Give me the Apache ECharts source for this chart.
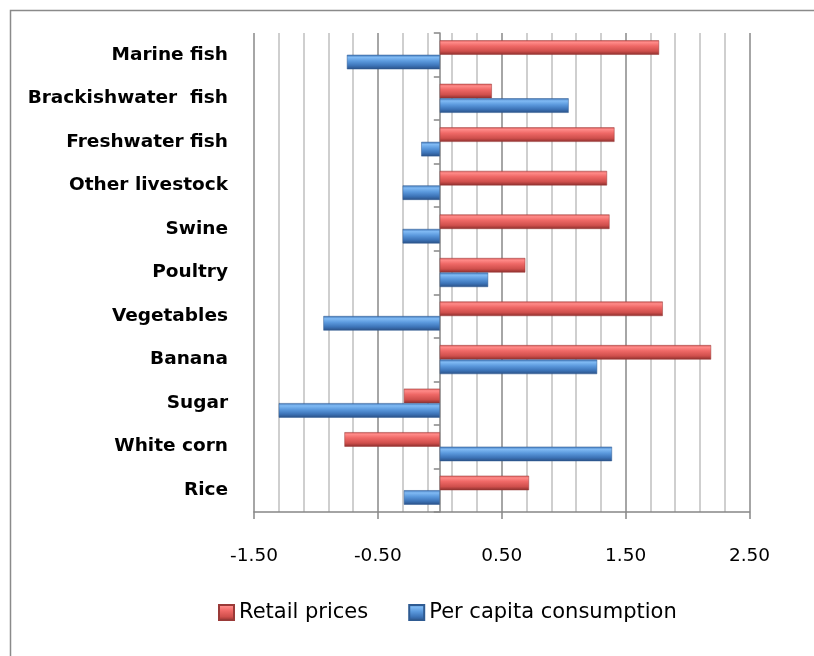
<!DOCTYPE html>
<html>
<head>
<meta charset="utf-8">
<script src="https://cdn.jsdelivr.net/npm/echarts@6/dist/echarts.min.js"></script>
<style>
html,body{margin:0;padding:0;background:#fff;overflow:hidden;}
#main{width:814px;height:656px;}
</style>
</head>
<body>
<div id="main"></div>
<script>
// Categories listed bottom -> top
var categories = ['Rice', 'White corn', 'Sugar', 'Banana', 'Vegetables', 'Poultry', 'Swine', 'Other livestock', 'Freshwater fish', 'Brackishwater  fish', 'Marine fish'];
var retailPrices = [0.72, -0.77, -0.29, 2.19, 1.80, 0.69, 1.37, 1.35, 1.41, 0.42, 1.77];
var perCapitaConsumption = [-0.29, 1.39, -1.30, 1.27, -0.94, 0.39, -0.30, -0.30, -0.15, 1.04, -0.75];
var seriesNames = ['Retail prices', 'Per capita consumption'];

var FONT = '"DejaVu Sans", "Liberation Sans", sans-serif';
var chart = echarts.init(document.getElementById('main'));

var redGrad = new echarts.graphic.LinearGradient(0, 0, 0, 1, [
  {offset: 0, color: '#d65c5a'},
  {offset: 0.15, color: '#ff8a88'},
  {offset: 0.4, color: '#ef6866'},
  {offset: 0.75, color: '#cf4f4c'},
  {offset: 1, color: '#8b2e2c'}
]);
var blueGrad = new echarts.graphic.LinearGradient(0, 0, 0, 1, [
  {offset: 0, color: '#3f74b5'},
  {offset: 0.18, color: '#80baf4'},
  {offset: 0.45, color: '#5a98dc'},
  {offset: 0.75, color: '#3d74b8'},
  {offset: 1, color: '#2a5085'}
]);

chart.setOption({
  animation: false,
  backgroundColor: '#fff',
  graphic: [{
    type: 'polyline',
    shape: {points: [[10.5, 700], [10.5, 10.5], [900, 10.5]]},
    style: {fill: null, stroke: '#8a8a8a', lineWidth: 1.5},
    silent: true
  }],
  legend: {
    data: seriesNames,
    left: 213,
    top: 597,
    itemGap: 40,
    itemWidth: 15,
    itemHeight: 15,
    icon: 'rect',
    textStyle: {fontFamily: FONT, fontSize: 21, color: '#000'}
  },
  grid: {left: 254, right: 64.5, top: 33, bottom: 144},
  xAxis: {
    type: 'value',
    min: -1.5,
    max: 2.5,
    interval: 1,
    axisLine: {show: true, lineStyle: {color: '#868686', width: 1.5}},
    axisTick: {show: true, length: 7, lineStyle: {color: '#868686', width: 1.5}},
    axisLabel: {fontFamily: FONT, fontSize: 18.5, color: '#000', margin: 35,
      formatter: function (v) { return v.toFixed(2); }},
    splitLine: {show: true, lineStyle: {color: '#888888', width: 1.5}},
    minorTick: {show: false, splitNumber: 5},
    minorSplitLine: {show: true, lineStyle: {color: '#c0c0c0', width: 1.5}}
  },
  yAxis: [{
    type: 'category',
    data: categories,
    axisLine: {show: false, onZero: false},
    axisTick: {show: false},
    axisLabel: {fontFamily: FONT, fontSize: 18.5, fontWeight: 'bold', color: '#000', margin: 26}
  }, {
    type: 'category',
    data: categories,
    position: 'left',
    axisLine: {show: true, onZero: true, lineStyle: {color: '#868686', width: 1.5}},
    axisTick: {show: true, length: 6, lineStyle: {color: '#868686', width: 1.5}},
    axisLabel: {show: false},
    splitLine: {show: false}
  }],
  series: [{
    name: seriesNames[0],
    type: 'bar',
    data: retailPrices,
    barWidth: 14.5,
    barGap: '0%',
    itemStyle: {color: redGrad, borderColor: '#9a3a38', borderWidth: 0.5}
  }, {
    name: seriesNames[1],
    type: 'bar',
    data: perCapitaConsumption,
    barWidth: 14.5,
    barGap: '0%',
    itemStyle: {color: blueGrad, borderColor: '#2f5b92', borderWidth: 0.5}
  }]
});
</script>
</body>
</html>
